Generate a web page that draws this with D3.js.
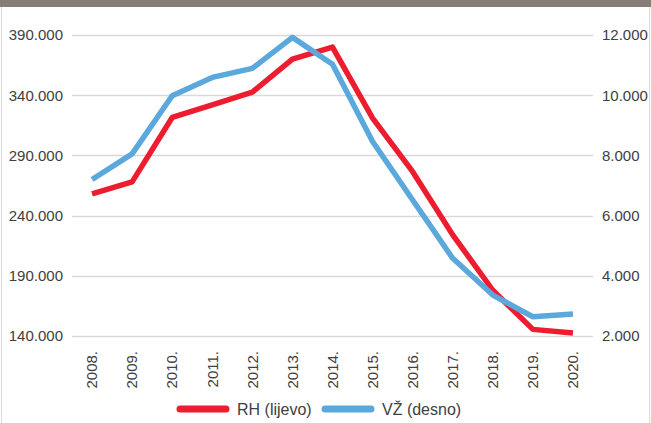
<!DOCTYPE html>
<html>
<head>
<meta charset="utf-8">
<script src="https://cdn.jsdelivr.net/npm/d3@7"></script>
<style>
  body { margin: 0; background: #fff; }
  svg { display: block; font-family: "Liberation Sans", Arial, sans-serif; }
</style>
</head>
<body>
<div id="chart"></div>
<script>
const years = ["2008.", "2009.", "2010.", "2011.", "2012.", "2013.", "2014.",
               "2015.", "2016.", "2017.", "2018.", "2019.", "2020."];
const rhValues = [258000, 268000, 321500, 332000, 342500, 370000, 380000,
                  321000, 276500, 224000, 178000, 145500, 142500];
const vzValues = [7200, 8050, 9980, 10590, 10890, 11920, 11030,
                  8460, 6520, 4580, 3360, 2640, 2730];
const leftTicks = [140000, 190000, 240000, 290000, 340000, 390000];
const rightTicks = [2000, 4000, 6000, 8000, 10000, 12000];
const seriesNames = ["RH (lijevo)", "VŽ (desno)"];
const colors = ["#ed1c2e", "#5aa8dc"];

const width = 651, height = 423;
const margin = {top: 35, right: 58, bottom: 87, left: 72};

const svg = d3.select("#chart").append("svg")
    .attr("width", width)
    .attr("height", height);

// header bar (title cut off at the top)
svg.append("rect")
    .attr("x", 0).attr("y", 0)
    .attr("width", width).attr("height", 7)
    .attr("fill", "#877c76");

// frame sides
svg.append("line").attr("x1", 1.5).attr("x2", 1.5).attr("y1", 7).attr("y2", height)
    .attr("stroke", "#d9d9d9");
svg.append("line").attr("x1", 649.5).attr("x2", 649.5).attr("y1", 7).attr("y2", height)
    .attr("stroke", "#d9d9d9");

const x = d3.scalePoint()
    .domain(years)
    .range([margin.left, width - margin.right])
    .padding(0.5);

const yLeft = d3.scaleLinear()
    .domain([140000, 390000])
    .range([height - margin.bottom, margin.top]);

const yRight = d3.scaleLinear()
    .domain([2000, 12000])
    .range([height - margin.bottom, margin.top]);

const fmt = v => d3.format(",")(v).replace(/,/g, ".");

// gridlines
svg.append("g")
    .selectAll("line")
    .data(leftTicks)
    .enter().append("line")
    .attr("x1", margin.left)
    .attr("x2", width - margin.right)
    .attr("y1", d => Math.round(yLeft(d)) + 0.5)
    .attr("y2", d => Math.round(yLeft(d)) + 0.5)
    .attr("stroke", "#d9d9d9")
    .attr("stroke-width", 1.3);

// left axis
svg.append("g")
    .attr("transform", `translate(${margin.left - 9},0)`)
    .call(d3.axisLeft(yLeft).tickValues(leftTicks).tickFormat(fmt).tickSize(0).tickPadding(0))
    .call(g => g.select(".domain").remove())
    .selectAll("text")
    .attr("font-size", 15)
    .attr("font-family", "Liberation Sans, Arial, sans-serif")
    .attr("fill", "#404040");

// right axis
svg.append("g")
    .attr("transform", `translate(${width - margin.right + 9},0)`)
    .call(d3.axisRight(yRight).tickValues(rightTicks).tickFormat(fmt).tickSize(0).tickPadding(0))
    .call(g => g.select(".domain").remove())
    .selectAll("text")
    .attr("font-size", 15)
    .attr("font-family", "Liberation Sans, Arial, sans-serif")
    .attr("fill", "#404040");

// x axis labels, rotated
svg.append("g")
    .selectAll("text")
    .data(years)
    .enter().append("text")
    .attr("transform", d => `translate(${x(d)},${height - margin.bottom + 15}) rotate(-90)`)
    .attr("text-anchor", "end")
    .attr("dy", "0.35em")
    .attr("font-size", 15)
    .attr("fill", "#404040")
    .text(d => d);

// lines
const lineLeft = d3.line().x((d, i) => x(years[i])).y(d => yLeft(d));
const lineRight = d3.line().x((d, i) => x(years[i])).y(d => yRight(d));

svg.append("path")
    .datum(rhValues)
    .attr("d", lineLeft)
    .attr("fill", "none")
    .attr("stroke", colors[0])
    .attr("stroke-width", 5.5)
    .attr("stroke-linejoin", "round");

svg.append("path")
    .datum(vzValues)
    .attr("d", lineRight)
    .attr("fill", "none")
    .attr("stroke", colors[1])
    .attr("stroke-width", 5.5)
    .attr("stroke-linejoin", "round");

// legend
const legendX = [180, 325];
const legend = svg.append("g")
    .selectAll("g")
    .data(seriesNames)
    .enter().append("g")
    .attr("transform", (d, i) => `translate(${legendX[i]},409)`);

legend.append("line")
    .attr("x1", 0).attr("x2", 46)
    .attr("stroke", (d, i) => colors[i])
    .attr("stroke-width", 7)
    .attr("stroke-linecap", "round");

legend.append("text")
    .attr("x", 57)
    .attr("dy", "0.35em")
    .attr("font-size", 16)
    .attr("fill", "#404040")
    .text(d => d);
</script>
</body>
</html>
